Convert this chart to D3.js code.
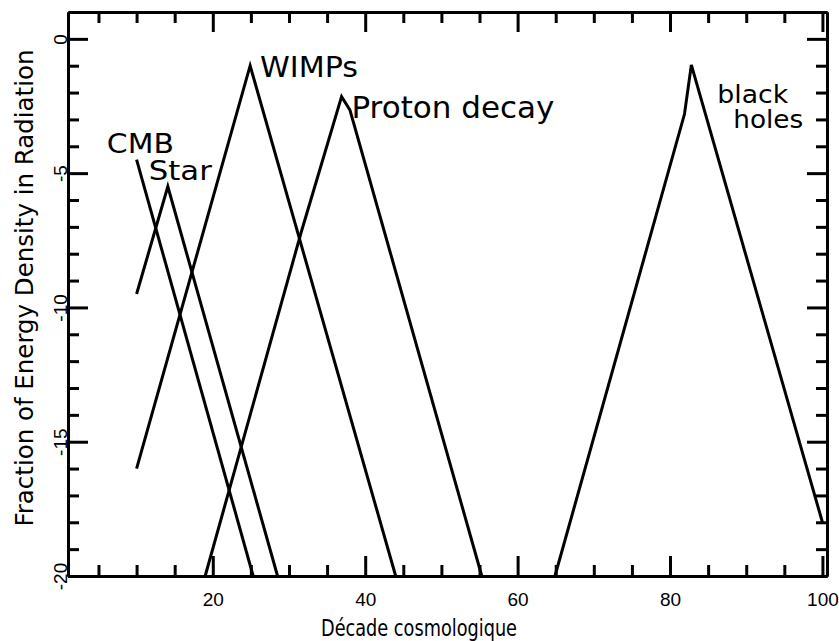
<!DOCTYPE html>
<html>
<head>
<meta charset="utf-8">
<script src="https://cdn.jsdelivr.net/npm/d3@7"></script>
<style>
    body { margin: 0; background: #fff; }
    .tick text { font-family: "Liberation Sans", Arial, sans-serif; font-size: 19px; fill: #000; }
</style>
</head>
<body>
<div id="chart"></div>
<script>
//Global Variables
var width = 839;
var height = 641;

//Ticks
var xMajor = [20, 40, 60, 80, 100];
var xMinor = [5, 10, 15, 25, 30, 35, 45, 50, 55, 65, 70, 75, 85, 90, 95];
var yMajor = [0, -5, -10, -15, -20];
var yMinor = [-1, -2, -3, -4, -6, -7, -8, -9, -11, -12, -13, -14, -16, -17, -18, -19];

//Series: [decade, log fraction]
var cmb = [[10, -4.5], [25.3, -20]];
var star = [[10, -9.5], [14.1, -5.5], [28.5, -20]];
var wimps = [[10, -16], [24.9, -1], [44, -20]];
var proton = [[19, -20], [31.6, -7.2], [36.9, -2.15], [38, -2.65], [55.3, -20]];
var blackHoles = [[64.9, -20], [81.9, -2.8], [82.8, -0.97], [100, -18]];

//Labels: [text, x, y, font size, text length]
var labels = [
    ["CMB", 6.1, -4.25, 27, 67],
    ["Star", 11.6, -5.25, 27, 63],
    ["WIMPs", 26.2, -1.42, 28, 98],
    ["Proton decay", 38.2, -2.95, 30, 203],
    ["black", 86.2, -2.39, 24, 71],
    ["holes", 88.3, -3.32, 24, 70]
];

var svg = d3.select("#chart")
    .append("svg")
    .attr("width", width)
    .attr("height", height);

svg.append("rect")
    .attr("width", width)
    .attr("height", height)
    .attr("fill", "#fff");

var x = d3.scaleLinear().domain([1, 100.6]).range([68, 827]);
var y = d3.scaleLinear().domain([-20, 1]).range([576, 12]);

var plotTop = y.range()[1];
var plotBottom = y.range()[0];
var plotLeft = x.range()[0];
var plotRight = x.range()[1];

////////////////////// Axes /////////////////////////

function styleAxis(g) {
    g.select(".domain").attr("stroke", "#000").attr("stroke-width", 3);
    g.selectAll(".tick line").attr("stroke", "#000").attr("stroke-width", 3);
}

//Minor ticks, all four sides
svg.append("g")
    .attr("transform", "translate(0," + plotBottom + ")")
    .call(d3.axisBottom(x).tickValues(xMinor).tickSize(-11).tickSizeOuter(0).tickFormat(""))
    .call(styleAxis);
svg.append("g")
    .attr("transform", "translate(0," + plotTop + ")")
    .call(d3.axisTop(x).tickValues(xMinor).tickSize(-11).tickSizeOuter(0).tickFormat(""))
    .call(styleAxis);
svg.append("g")
    .attr("transform", "translate(" + plotLeft + ",0)")
    .call(d3.axisLeft(y).tickValues(yMinor).tickSize(-11).tickSizeOuter(0).tickFormat(""))
    .call(styleAxis);
svg.append("g")
    .attr("transform", "translate(" + plotRight + ",0)")
    .call(d3.axisRight(y).tickValues(yMinor).tickSize(-11).tickSizeOuter(0).tickFormat(""))
    .call(styleAxis);

//Major ticks
svg.append("g")
    .attr("transform", "translate(0," + plotBottom + ")")
    .call(d3.axisBottom(x).tickValues(xMajor).tickSize(-20).tickSizeOuter(0).tickPadding(17).tickFormat(d => String(d)))
    .call(styleAxis);
svg.append("g")
    .attr("transform", "translate(0," + plotTop + ")")
    .call(d3.axisTop(x).tickValues(xMajor).tickSize(-20).tickSizeOuter(0).tickFormat(""))
    .call(styleAxis);
svg.append("g")
    .attr("transform", "translate(" + plotLeft + ",0)")
    .call(d3.axisLeft(y).tickValues(yMajor).tickSize(-20).tickSizeOuter(0).tickFormat(d => String(d)))
    .call(styleAxis)
    .selectAll(".tick text")
        .attr("x", 0)
        .attr("dy", 0)
        .attr("text-anchor", "middle")
        .attr("transform", "translate(-1,0) rotate(-90)");
svg.append("g")
    .attr("transform", "translate(" + plotRight + ",0)")
    .call(d3.axisRight(y).tickValues(yMajor).tickSize(-20).tickSizeOuter(0).tickFormat(""))
    .call(styleAxis);

//Axis titles
svg.append("text")
    .attr("x", 419)
    .attr("y", 636)
    .attr("text-anchor", "middle")
    .attr("textLength", 196)
    .attr("lengthAdjust", "spacingAndGlyphs")
    .style("font-family", "DejaVu Sans")
    .style("font-size", "23px")
    .text("Décade cosmologique");

svg.append("text")
    .attr("transform", "translate(33,288) rotate(-90)")
    .attr("text-anchor", "middle")
    .attr("textLength", 477)
    .attr("lengthAdjust", "spacingAndGlyphs")
    .style("font-family", "DejaVu Sans")
    .style("font-size", "24px")
    .text("Fraction of Energy Density in Radiation");

////////////////////// Lines /////////////////////////

var line = d3.line()
    .x(d => x(d[0]))
    .y(d => y(d[1]));

svg.append("g")
    .selectAll("path")
    .data([cmb, star, wimps, proton, blackHoles])
    .enter()
    .append("path")
    .attr("d", line)
    .attr("fill", "none")
    .attr("stroke", "#000")
    .attr("stroke-width", 3)
    .attr("stroke-linejoin", "miter");

svg.append("g")
    .selectAll("text")
    .data(labels)
    .enter()
    .append("text")
    .attr("x", d => x(d[1]))
    .attr("y", d => y(d[2]))
    .attr("textLength", d => d[4])
    .attr("lengthAdjust", "spacingAndGlyphs")
    .style("font-family", "DejaVu Sans")
    .style("font-size", d => d[3] + "px")
    .text(d => d[0]);
</script>
</body>
</html>
